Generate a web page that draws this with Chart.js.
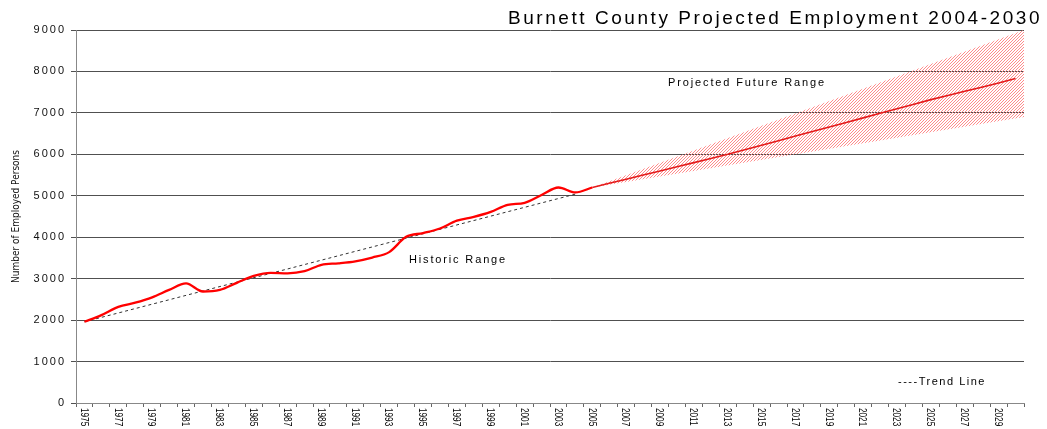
<!DOCTYPE html>
<html>
<head>
<meta charset="utf-8">
<script src="https://cdn.jsdelivr.net/npm/chart.js@4.4.1/dist/chart.umd.min.js"></script>
<style>
  html, body { margin: 0; padding: 0; background: #fff; }
</style>
</head>
<body>
<canvas id="chart" width="1047" height="429"></canvas>
<script>
// ---- data ----
const tickYears = [1975, 1976, 1977, 1978, 1979, 1980, 1981, 1982, 1983, 1984, 1985, 1986, 1987, 1988,
  1989, 1990, 1991, 1992, 1993, 1994, 1995, 1996, 1997, 1998, 1999, 2000, 2001, 2002, 2003, 2004,
  2005, 2006, 2007, 2008, 2009, 2010, 2011, 2012, 2013, 2014, 2015, 2016, 2017, 2018, 2019, 2020,
  2021, 2022, 2023, 2024, 2025, 2026, 2027, 2028, 2029, 2030];
const labelYears = [1975, 1977, 1979, 1981, 1983, 1985, 1987, 1989, 1991, 1993, 1995, 1997, 1999,
  2001, 2003, 2005, 2007, 2009, 2011, 2013, 2015, 2017, 2019, 2021, 2023, 2025, 2027, 2029];
const yTicks = [0, 1000, 2000, 3000, 4000, 5000, 6000, 7000, 8000, 9000];

const historicYears = [1975, 1976, 1977, 1978, 1979, 1980, 1981, 1982, 1983, 1984, 1985, 1986, 1987,
  1988, 1989, 1990, 1991, 1992, 1993, 1994, 1995, 1996, 1997, 1998, 1999, 2000, 2001, 2002, 2003,
  2004, 2005];
const historicValues = [1960, 2120, 2320, 2420, 2550, 2730, 2885, 2690, 2730, 2900, 3065, 3140, 3130,
  3180, 3335, 3370, 3420, 3510, 3640, 4010, 4100, 4210, 4400, 4490, 4610, 4780, 4830, 5020, 5200,
  5080, 5200];

const projectedYears = [2005, 2006, 2007, 2008, 2009, 2010, 2011, 2012, 2013, 2014, 2015, 2016, 2017,
  2018, 2019, 2020, 2021, 2022, 2023, 2024, 2025, 2026, 2027, 2028, 2029, 2030];
const projectedValues = [5200, 5300, 5400, 5500, 5600, 5700, 5800, 5900, 6000, 6110, 6220, 6330, 6440,
  6550, 6660, 6770, 6880, 6990, 7100, 7210, 7320, 7420, 7520, 7620, 7720, 7830];

const trendYears = [1975, 2004];
const trendValues = [1960, 5040];

const rangeYears = [2005, 2030.5];
const rangeUpper = [5200, 9000];
const rangeLower = [5200, 6900];

const chartTitle = 'Burnett County Projected Employment 2004-2030';
const yAxisTitle = 'Number of Employed Persons';
const historicLabel = 'Historic Range';
const futureLabel = 'Projected Future Range';
const trendLabel = '----Trend Line';

// =============================================
// helpers
// =============================================
const CONDENSED = "'DejaVu Sans Condensed', 'Liberation Sans', sans-serif";
const SANS = "'Liberation Sans', Arial, sans-serif";

const toPoints = (xs, ys) => xs.map((x, i) => ({ x, y: ys[i] }));

const canvas = document.getElementById('chart');
const ctx = canvas.getContext('2d');

// pink "////" hatch, one pixel per row
function makeHatch() {
    const c = document.createElement('canvas');
    c.width = 3; c.height = 3;
    const g = c.getContext('2d');
    g.fillStyle = 'rgb(255,140,140)';
    g.fillRect(2, 0, 1, 1);
    g.fillRect(1, 1, 1, 1);
    g.fillRect(0, 2, 1, 1);
    return ctx.createPattern(c, 'repeat');
}

// draw text stretched with letter spacing so it covers a given width
function spacedText(c, text, left, midY, width, font) {
    c.save();
    c.font = font;
    c.letterSpacing = '0px';
    const w = c.measureText(text).width;
    const sp = Math.max(0, (width - w) / text.length);
    c.letterSpacing = sp.toFixed(2) + 'px';
    c.fillStyle = '#000';
    c.textAlign = 'left';
    c.textBaseline = 'middle';
    c.fillText(text, left, midY);
    c.restore();
}

// =============================================
// plugin — texts, rotated year labels
// =============================================
const textPlugin = {
    id: 'texts',
    afterDatasetsDraw(chart) {
        // y tick labels are drawn after this (ticks.z = 1) with wide spacing
        chart.ctx.letterSpacing = '2px';
    },
    afterDraw(chart) {
        const c = chart.ctx;
        c.letterSpacing = '0px';
        const xs = chart.scales.x;
        const area = chart.chartArea;

        c.save();
        c.font = '10px ' + SANS;
        c.fillStyle = '#000';
        c.textAlign = 'left';
        c.textBaseline = 'middle';
        labelYears.forEach(yr => {
            const px = xs.getPixelForValue(yr);
            c.save();
            c.translate(px - 1, area.bottom + 5);
            c.rotate(Math.PI / 2);
            c.scale(0.82, 1);
            c.fillText(String(yr), 0, 0);
            c.restore();
        });
        c.restore();

        spacedText(c, chartTitle, 508, 19, 534, '19px ' + SANS);
        spacedText(c, historicLabel, 409, 260, 98, '11px ' + SANS);
        spacedText(c, futureLabel, 668, 83, 158, '11px ' + SANS);
        spacedText(c, trendLabel, 898, 382, 88, '11px ' + SANS);
    },
};

// =============================================
// chart
// =============================================
new Chart(ctx, {
    type: 'line',
    data: {
        datasets: [
            {
                label: 'Range upper',
                data: toPoints(rangeYears, rangeUpper),
                borderWidth: 0,
                pointRadius: 0,
                fill: '+1',
                backgroundColor: makeHatch(),
                order: 5,
            },
            {
                label: 'Range lower',
                data: toPoints(rangeYears, rangeLower),
                borderWidth: 0,
                pointRadius: 0,
                fill: false,
                order: 4,
            },
            {
                label: 'Trend',
                data: toPoints(trendYears, trendValues),
                borderColor: '#333',
                borderWidth: 1,
                borderDash: [3, 3],
                pointRadius: 0,
                fill: false,
                order: 2,
            },
            {
                label: 'Projected',
                data: toPoints(projectedYears, projectedValues),
                borderColor: '#e41a1a',
                borderWidth: 1.6,
                pointRadius: 0,
                fill: false,
                order: 1,
            },
            {
                label: 'Historic',
                data: toPoints(historicYears, historicValues),
                borderColor: '#ff0000',
                borderWidth: 2.3,
                pointRadius: 0,
                cubicInterpolationMode: 'monotone',
                fill: false,
                order: 0,
            },
        ],
    },
    options: {
        responsive: false,
        animation: false,
        devicePixelRatio: 1,
        layout: { padding: { top: 30, right: 23, left: 0, bottom: 0 } },
        plugins: {
            legend: { display: false },
            tooltip: { enabled: false },
            title: { display: false },
        },
        scales: {
            x: {
                type: 'linear',
                min: 1974.5,
                max: 2030.5,
                afterBuildTicks: s => { s.ticks = tickYears.map(v => ({ value: v })); },
                afterFit: s => { s.height = 26; },
                ticks: { display: false },
                grid: { offset: true, drawOnChartArea: false, tickLength: 4, color: '#666' },
                border: { color: '#888', width: 1 },
            },
            y: {
                min: 0,
                max: 9000,
                afterBuildTicks: s => { s.ticks = yTicks.map(v => ({ value: v })); },
                afterFit: s => { s.width = 76; },
                ticks: {
                    color: '#111',
                    padding: 5,
                    z: 1,
                    font: { family: SANS, size: 11 },
                    callback: v => String(v),
                },
                grid: { color: '#505050', lineWidth: 1, tickLength: 5 },
                border: { color: '#888', width: 1 },
                title: {
                    display: true,
                    text: yAxisTitle,
                    color: '#111',
                    font: { family: CONDENSED, size: 10 },
                    padding: { top: 10, bottom: 0 },
                },
            },
        },
    },
    plugins: [textPlugin],
});
</script>
</body>
</html>
